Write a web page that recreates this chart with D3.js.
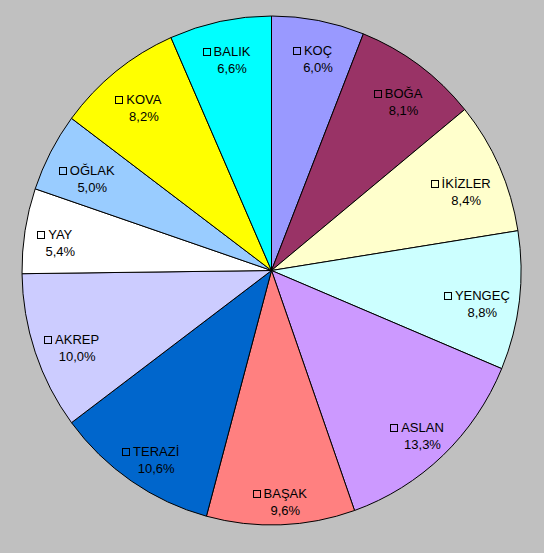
<!DOCTYPE html>
<html lang="tr">
<head>
  <meta charset="UTF-8">
  <title>Burçlar</title>
  <script src="https://d3js.org/d3.v7.min.js"></script>
  <style>
    body { margin: 0; background: #c0c0c0; }
    svg { display: block; background-color: #c0c0c0; }
    .label { font-family: "Liberation Sans", Arial, sans-serif; font-size: 13px; fill: #000; text-anchor: middle; }
  </style>
</head>
<body>
  <svg width="544" height="553"></svg>
  <script>
    const names = ["KOÇ", "BOĞA", "İKİZLER", "YENGEÇ", "ASLAN", "BAŞAK", "TERAZİ", "AKREP", "YAY", "OĞLAK", "KOVA", "BALIK"];
    const values = [6.0, 8.1, 8.4, 8.8, 13.3, 9.6, 10.6, 10.0, 5.4, 5.0, 8.2, 6.6];
    const colors = ["#9999ff", "#993366", "#ffffcc", "#ccffff", "#cc99ff", "#ff8080", "#0066cc", "#ccccff", "#ffffff", "#99ccff", "#ffff00", "#00ffff"];

    const svg = d3.select("svg");
    const cx = 271.5, cy = 270.5, rx = 249.5, ry = 254.5;
    const k = ry / rx;

    const slices = d3.pie().sort(null).value(d => d)(values);
    const arc = d3.arc().innerRadius(0).outerRadius(rx);

    const g = svg.append("g")
      .attr("transform", `translate(${cx},${cy}) scale(1,${k})`);

    g.selectAll("path")
      .data(slices)
      .enter()
      .append("path")
      .attr("d", arc)
      .attr("fill", (d, i) => colors[i])
      .attr("stroke", "#000")
      .attr("stroke-width", 1)
      .attr("vector-effect", "non-scaling-stroke");

    const fmt = v => v.toFixed(1).replace(".", ",") + "%";

    // labels sit inside the slice, pushed out toward the rim
    const labels = svg.append("g");
    slices.forEach((d, i) => {
      const lab = labels.append("g");
      const t1 = lab.append("text").attr("class", "label").text(names[i]);
      const t2 = lab.append("text").attr("class", "label").text(fmt(values[i]));
      const w = Math.max(t1.node().getComputedTextLength(), t2.node().getComputedTextLength());

      const a = (d.startAngle + d.endAngle) / 2;
      const ux = Math.sin(a), uy = -Math.cos(a);
      const hw = w / 2 + 3.5, hh = 19;
      const s = Math.min(ux ? hw / Math.abs(ux) : Infinity, uy ? hh / Math.abs(uy) : Infinity);
      const dist = 238 - s;
      const x = cx + dist * ux + 5.5;
      const y = cy + dist * uy * k;

      t1.attr("x", x).attr("y", y + 4);
      t2.attr("x", x).attr("y", y + 21);

      const w1 = t1.node().getComputedTextLength();
      lab.append("rect")
        .attr("x", Math.round(x - w1 / 2 - 11) + 0.5)
        .attr("y", Math.round(y - 4) + 0.5)
        .attr("width", 7)
        .attr("height", 7)
        .attr("fill", "none")
        .attr("stroke", "#000")
        .attr("stroke-width", 1);
    });
  </script>
</body>
</html>
